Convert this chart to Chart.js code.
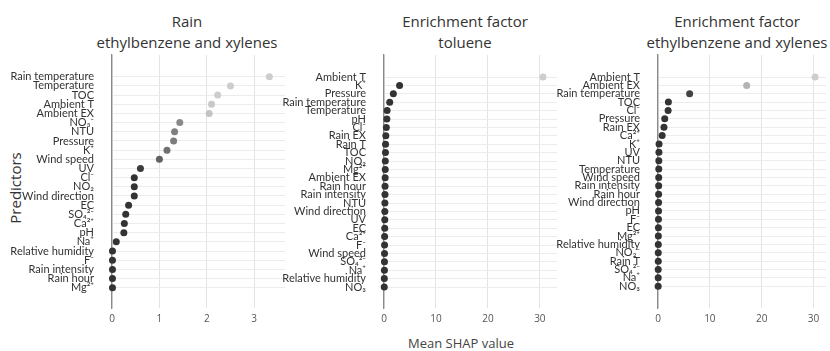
<!DOCTYPE html>
<html>
<head>
<meta charset="utf-8">
<script src="https://cdn.jsdelivr.net/npm/chart.js@4"></script>
<style>
  body { margin: 0; background: #fff; width: 830px; height: 351px; position: relative; overflow: hidden;
         font-family: "Open Sans", sans-serif; color: #333; }
  canvas { position: absolute; top: 0; }
  .title { position: absolute; top: 11px; text-align: center; font-size: 15px; line-height: 21px;
           white-space: nowrap; transform: translateX(-50%); color: #333; }
  #ylab { position: absolute; left: 15px; top: 188px; transform: translate(-50%, -50%) rotate(-90deg);
          font-size: 15px; color: #333; }
  #xlab { position: absolute; left: 461px; top: 343px; transform: translate(-50%, -50%);
          font-size: 13px; color: #444; white-space: nowrap; }
</style>
</head>
<body>
<div class="title" style="left:187px">Rain<br>ethylbenzene and xylenes</div>
<div class="title" style="left:465px">Enrichment factor<br>toluene</div>
<div class="title" style="left:737px">Enrichment factor<br>ethylbenzene and xylenes</div>
<div id="ylab">Predictors</div>
<div id="xlab">Mean SHAP value</div>

<canvas id="rain" width="290" height="351" style="left:0px"></canvas>
<canvas id="tolu" width="282" height="351" style="left:280px"></canvas>
<canvas id="ebx" width="275" height="351" style="left:555px"></canvas>

<script>
// Rain - ethylbenzene and xylenes
const rainLabels = ['Rain temperature', 'Temperature', 'TOC', 'Ambient T', 'Ambient EX', 'NO₃⁻', 'NTU',
  'Pressure', 'K⁺', 'Wind speed', 'UV', 'Cl⁻', 'NO₂', 'Wind direction', 'EC', 'SO₄²⁻', 'Ca²⁺', 'pH',
  'Na⁺', 'Relative humidity', 'F⁻', 'Rain intensity', 'Rain hour', 'Mg²⁺'];
const rainValues = [3.32, 2.50, 2.23, 2.10, 2.05, 1.43, 1.32, 1.30, 1.16, 1.00, 0.60, 0.47, 0.47, 0.47,
  0.35, 0.29, 0.26, 0.25, 0.09, 0.01, 0.01, 0.01, 0.01, 0.01];

// Enrichment factor - toluene
const toluLabels = ['Ambient T', 'K⁺', 'Pressure', 'Rain temperature', 'Temperature', 'pH', 'Cl⁻',
  'Rain EX', 'Rain T', 'TOC', 'NO₂', 'Mg²⁺', 'Ambient EX', 'Rain hour', 'Rain intensity', 'NTU',
  'Wind direction', 'UV', 'EC', 'Ca²⁺', 'F⁻', 'Wind speed', 'SO₄²⁻', 'Na⁺', 'Relative humidity', 'NO₃'];
const toluValues = [30.6, 3.0, 1.8, 1.1, 0.6, 0.55, 0.45, 0.35, 0.3, 0.28, 0.25, 0.24, 0.22, 0.2, 0.19,
  0.17, 0.16, 0.15, 0.14, 0.12, 0.11, 0.1, 0.09, 0.08, 0.06, 0.05];

// Enrichment factor - ethylbenzene and xylenes
const ebxLabels = ['Ambient T', 'Ambient EX', 'Rain temperature', 'TOC', 'Cl⁻', 'Pressure', 'Rain EX',
  'Ca²⁺', 'K⁺', 'UV', 'NTU', 'Temperature', 'Wind speed', 'Rain intensity', 'Rain hour',
  'Wind direction', 'pH', 'F⁻', 'EC', 'Mg²⁺', 'Relative humidity', 'NO₂⁻', 'Rain T', 'SO₄²⁻', 'Na⁺', 'NO₃'];
const ebxValues = [30.3, 17.1, 6.1, 2.0, 1.95, 1.3, 1.15, 0.8, 0.2, 0.18, 0.16, 0.15, 0.14, 0.13, 0.12,
  0.11, 0.1, 0.09, 0.08, 0.07, 0.06, 0.05, 0.05, 0.04, 0.04, 0.03];

const rainTicks = [0, 1, 2, 3];
const efTicks = [0, 10, 20, 30];

const labelFont = { family: 'Lato, "Open Sans", sans-serif', size: 11 };

// light grey for the big ones, dark for the small ones
function dotColor(v, max) {
  let t = (v / max - 0.15) / 0.5;
  t = Math.max(0, Math.min(1, t));
  const g = Math.round(51 + 154 * t);
  return `rgb(${g},${g},${g})`;
}

function makePanel(id, labels, values, xTicks, xMax, yWidth, padRight, padTop, padBottom) {
  const ctx = document.getElementById(id).getContext('2d');
  const max = Math.max(...values);
  return new Chart(ctx, {
    type: 'scatter',
    data: {
      datasets: [{
        data: values.map((v, i) => ({ x: v, y: i })),
        pointRadius: 3.5,
        pointBorderWidth: 0,
        pointBackgroundColor: values.map(v => dotColor(v, max)),
        clip: false
      }]
    },
    options: {
      responsive: false,
      devicePixelRatio: 1,
      animation: false,
      layout: { padding: { top: 55, right: padRight, bottom: 0, left: 0 } },
      plugins: { legend: { display: false }, tooltip: { enabled: false } },
      scales: {
        x: {
          type: 'linear',
          min: 0,
          max: xMax,
          afterBuildTicks: s => { s.ticks = xTicks.map(v => ({ value: v })); },
          afterFit: s => { s.height = 43; },
          grid: { color: '#e4e4e4', lineWidth: 1, drawTicks: false },
          border: { display: false },
          ticks: { padding: 5, color: '#555', font: { family: '"Open Sans", sans-serif', size: 10 } }
        },
        y: {
          type: 'linear',
          reverse: true,
          min: -padTop,
          max: labels.length - 1 + padBottom,
          afterBuildTicks: s => { s.ticks = labels.map((_, i) => ({ value: i })); },
          afterFit: s => { s.width = yWidth; },
          grid: { color: '#ececec', lineWidth: 1, drawTicks: false },
          border: { display: true, color: '#8a8a8a', width: 1.3 },
          ticks: {
            padding: 18,
            color: '#333',
            autoSkip: false,
            font: labelFont,
            callback: v => labels[v]
          }
        }
      }
    }
  });
}

makePanel('rain', rainLabels, rainValues, rainTicks, 3.65, 112, 5, 2.37, 2.21);
makePanel('tolu', toluLabels, toluValues, efTicks, 33.3, 104, 5, 2.62, 2.5);
makePanel('ebx', ebxLabels, ebxValues, efTicks, 32.4, 103, 2, 2.63, 2.6);
</script>
</body>
</html>
